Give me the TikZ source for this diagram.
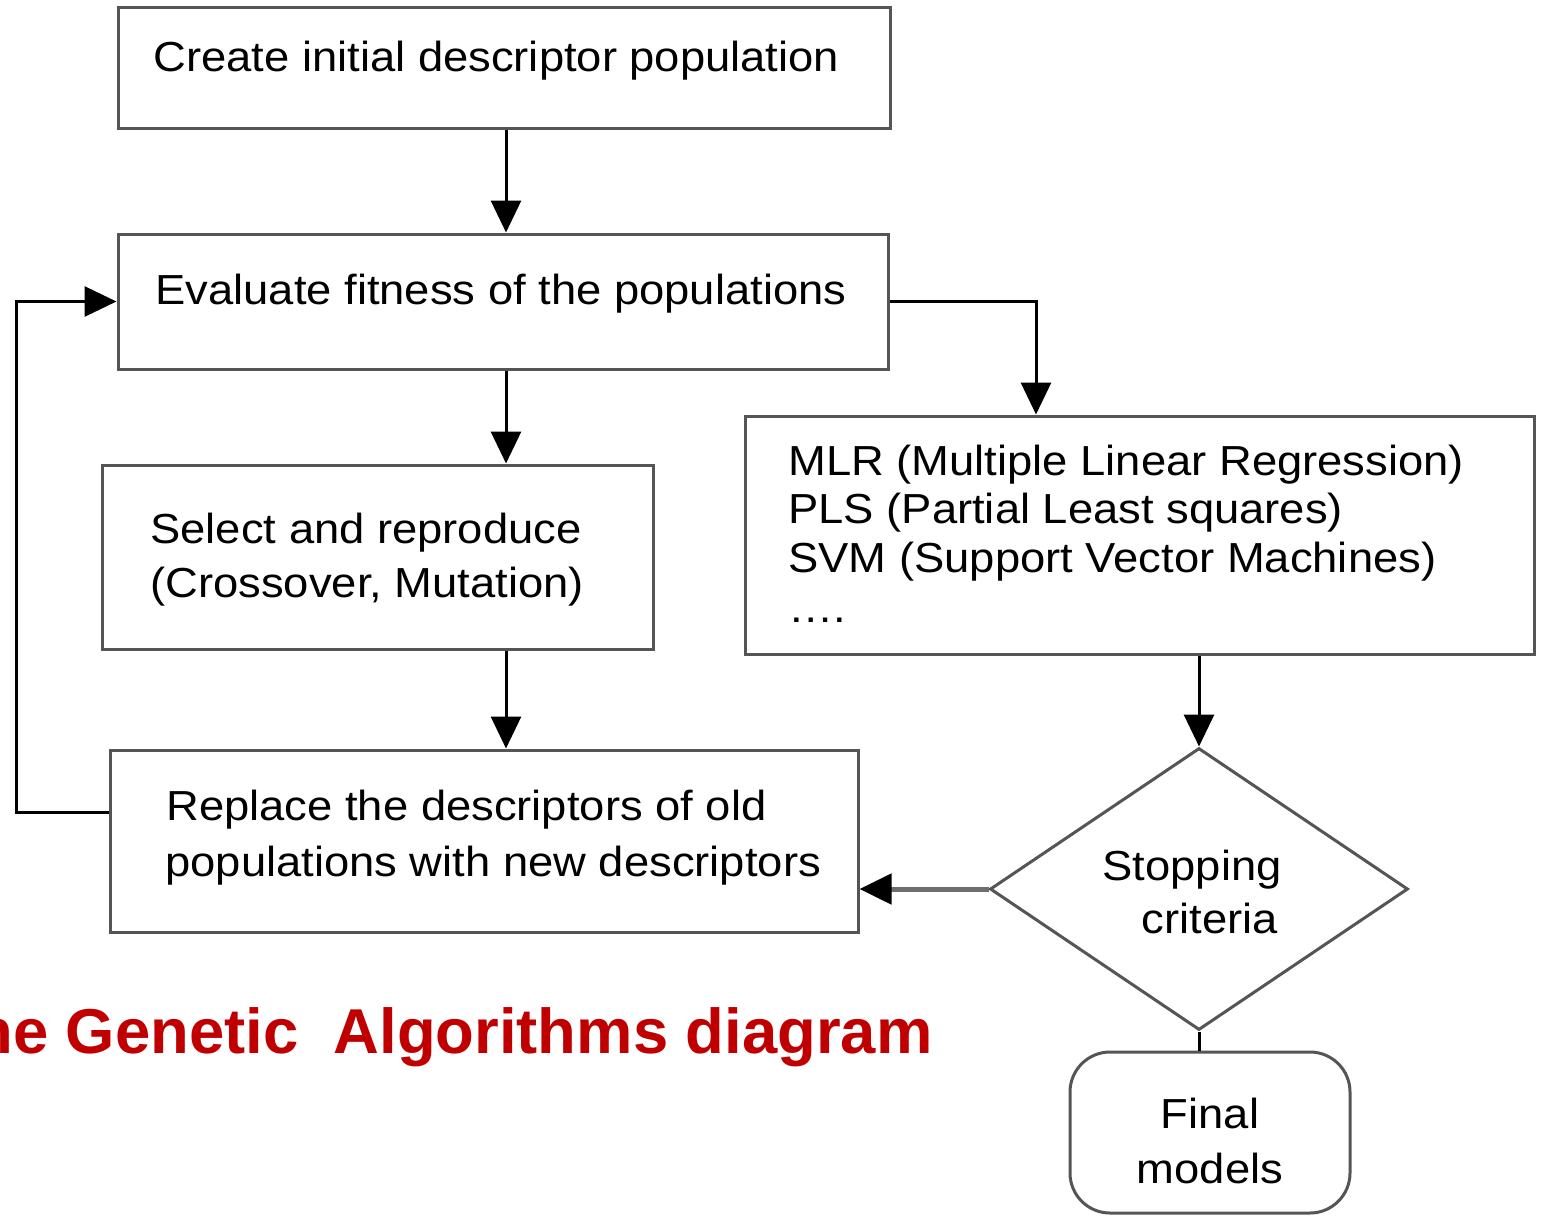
\documentclass[tikz,border=0pt]{standalone}
\usepackage{fontspec}
\setmainfont{Liberation Sans}
\usetikzlibrary{arrows.meta,fit,shapes.geometric}
\definecolor{boxgray}{RGB}{85,85,85}
\definecolor{linkgray}{RGB}{110,110,110}
\definecolor{titlered}{RGB}{192,0,0}
\newcommand{\stretchtxt}[1]{\scalebox{1.08}[1]{#1}}
\begin{document}
\begin{tikzpicture}[x=0.5pt,y=-0.5pt,
  box/.style={draw=boxgray, line width=1.5pt, inner sep=0pt},
  txt/.style={inner sep=0pt, anchor=base west, font=\fontsize{21}{25}\selectfont},
  ctxt/.style={txt, anchor=base},
  arr/.style={draw=black, line width=1.5pt, -{Triangle[length=16pt,width=15pt,color=black]}},
]
\useasboundingbox (0,0) rectangle (1547,1217);
\clip (0,0) rectangle (1547,1217);
\fill[white] (0,0) rectangle (1547,1217);

% boxes
\node[box, fit={(118,7) (890,128)}] (create) {};
\node[box, fit={(118,234) (888,369)}] (eval) {};
\node[box, fit={(102,465) (653,649)}] (select) {};
\node[box, fit={(745,416) (1534,654)}] (mlr) {};
\node[box, fit={(110,750) (858,932)}] (replace) {};
\node[diamond, draw=boxgray, line width=1.5pt, inner sep=0pt,
      minimum width=209pt, minimum height=141pt] (stop) at (1199,889) {};
\node[box, rounded corners=20pt, fit={(1070,1052) (1350,1213)}] (final) {};

% texts
\node[txt] (tcreate) at (153,71) {\stretchtxt{Create initial descriptor population}};
\node[txt] (teval) at (155,304) {\stretchtxt{Evaluate fitness of the populations}};
\node[txt] (tsel1) at (150,543) {\stretchtxt{Select and reproduce}};
\node[txt] (tsel2) at (150,597) {\stretchtxt{(Crossover, Mutation)}};
\node[txt] (tmlr1) at (788,475) {\stretchtxt{MLR (Multiple Linear Regression)}};
\node[txt] (tmlr2) at (788,523) {\stretchtxt{PLS (Partial Least squares)}};
\node[txt] (tmlr3) at (788,572) {\stretchtxt{SVM (Support Vector Machines)}};
\node[txt] (tmlr4) at (788,622) {\stretchtxt{….}};
\node[txt] (trep1) at (166,820) {\stretchtxt{Replace the descriptors of old}};
\node[txt] (trep2) at (165,876) {\stretchtxt{populations with new descriptors}};
\node[ctxt] (tstop1) at (1192,880) {\stretchtxt{Stopping}};
\node[ctxt] (tstop2) at (1210,933) {\stretchtxt{criteria}};
\node[ctxt] (tfin1) at (1210,1128) {\stretchtxt{Final}};
\node[ctxt] (tfin2) at (1210,1183) {\stretchtxt{models}};
\node[inner sep=0pt, anchor=base east, text=titlered,
      font=\fontsize{31.7}{36}\selectfont\bfseries] (title) at (933,1053)
      {The Genetic~ Algorithms diagram};

% connectors
\draw[arr] ([xshift=1pt]create.south) -- ([xshift=1pt]create.south |- eval.north);
\draw[arr] ([xshift=1.5pt]eval.south) -- ([xshift=1.5pt]eval.south |- select.north);
\draw[arr] ([xshift=1.5pt]eval.south |- select.south) -- ([xshift=1.5pt]eval.south |- replace.north);
\draw[arr] ([yshift=14.5pt]replace.west) -| ([xshift=-50pt]eval.west) -- (eval.west);
\draw[arr] (eval.east) -| ([xshift=-51.75pt]mlr.north);
\draw[arr] (stop.north |- mlr.south) -- (stop.north);
\draw[arr, draw=linkgray, line width=2.5pt] (stop.west) -- (stop.west -| replace.east);
\draw[line width=1.5pt] (stop.south) -- (stop.south |- final.north);
\end{tikzpicture}
\end{document}
